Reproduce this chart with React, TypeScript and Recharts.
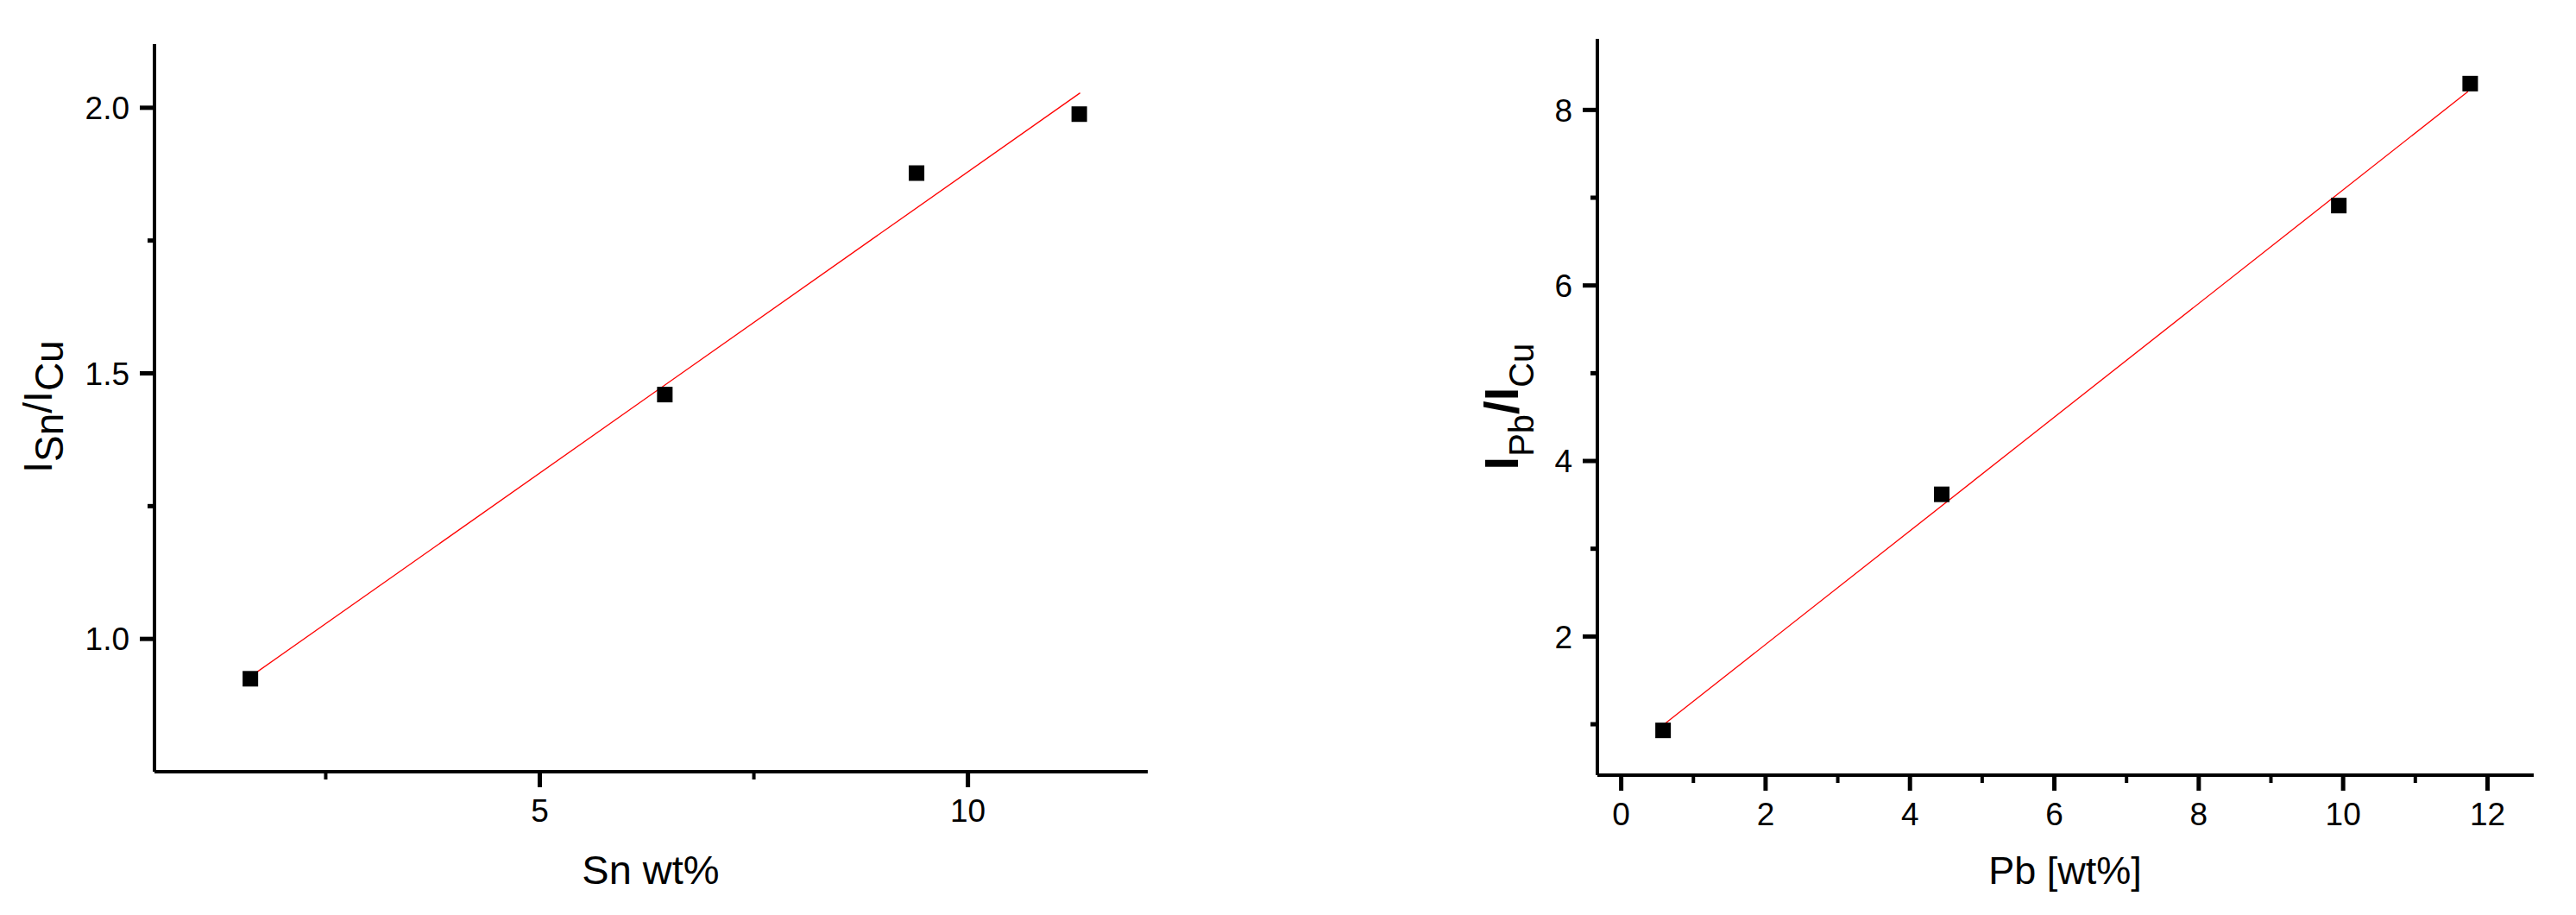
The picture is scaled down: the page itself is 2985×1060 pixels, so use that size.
import { ComposedChart, Scatter, XAxis, YAxis } from "recharts";

// Sn calibration
const snWt = [1.62, 6.46, 9.4, 11.3];
const snRatio = [0.925, 1.46, 1.877, 1.988];
const snFitWt = [1.62, 11.31];
const snFitRatio = [0.929, 2.028];
const snXTicks = [2.5, 5, 7.5, 10];
const snXLabels = [5, 10];
const snYTicks = [1, 1.25, 1.5, 1.75, 2];
const snYLabels = [1, 1.5, 2];

// Pb calibration
const pbWt = [0.58, 4.44, 9.94, 11.76];
const pbRatio = [0.93, 3.62, 6.91, 8.3];
const pbFitWt = [0.58, 11.73];
const pbFitRatio = [0.99, 8.21];
const pbXTicks = [0, 1, 2, 3, 4, 5, 6, 7, 8, 9, 10, 11, 12];
const pbXLabels = [0, 2, 4, 6, 8, 10, 12];
const pbYTicks = [1, 2, 3, 4, 5, 6, 7, 8];
const pbYLabels = [2, 4, 6, 8];

const FONT = "'Liberation Sans', Arial, sans-serif";
const TICK_FS = 37;

const zip = (xs: number[], ys: number[]) => xs.map((x, i) => ({ x, y: ys[i] }));

const square = (p: any) => <rect x={p.cx - 9} y={p.cy - 9} width={18} height={18} fill="#000" />;

function xTick(labels: number[], fmt: (v: number) => string) {
  return (p: any) => {
    const v = p.payload.value;
    const major = labels.includes(v);
    return (
      <g>
        <line x1={p.x} x2={p.x} y1={p.y} y2={p.y + (major ? 18 : 9)} stroke="#000" strokeWidth={major ? 5 : 4} />
        {major && (
          <text x={p.x} y={p.y + 58} textAnchor="middle" fontSize={TICK_FS} fontFamily={FONT} fill="#000">
            {fmt(v)}
          </text>
        )}
      </g>
    );
  };
}

function yTick(labels: number[], fmt: (v: number) => string) {
  return (p: any) => {
    const v = p.payload.value;
    const major = labels.includes(v);
    return (
      <g>
        <line x1={p.x - (major ? 17 : 8)} x2={p.x} y1={p.y} y2={p.y} stroke="#000" strokeWidth={5} />
        {major && (
          <text x={p.x - 29} y={p.y} dy="0.36em" textAnchor="end" fontSize={TICK_FS} fontFamily={FONT} fill="#000">
            {fmt(v)}
          </text>
        )}
      </g>
    );
  };
}

export default function App() {
  const snPts = zip(snWt, snRatio);
  const snFit = zip(snFitWt, snFitRatio);
  const pbPts = zip(pbWt, pbRatio);
  const pbFit = zip(pbFitWt, pbFitRatio);

  return (
    <div style={{ position: "absolute", left: 0, top: 0, width: 2985, height: 1060, background: "#fff" }}>
      <div style={{ position: "absolute", left: 0, top: 0 }}>
        <ComposedChart width={1400} height={1060} margin={{ top: 51, left: 119, right: 70, bottom: 106 }}>
          <XAxis
            type="number"
            dataKey="x"
            domain={[0.5, 12.1]}
            ticks={snXTicks}
            interval={0}
            allowDataOverflow
            height={60}
            axisLine={{ stroke: "#000", strokeWidth: 4 }}
            tickLine={false}
            tickSize={0}
            tickMargin={0}
            tick={xTick(snXLabels, (v) => String(v))}
          />
          <YAxis
            type="number"
            dataKey="y"
            domain={[0.75, 2.12]}
            ticks={snYTicks}
            interval={0}
            allowDataOverflow
            width={60}
            axisLine={{ stroke: "#000", strokeWidth: 4 }}
            tickLine={false}
            tickSize={0}
            tickMargin={0}
            tick={yTick(snYLabels, (v) => v.toFixed(1))}
          />
          <Scatter data={snFit} line={{ stroke: "#ff0000", strokeWidth: 1.3 }} shape={() => <g />} isAnimationActive={false} />
          <Scatter data={snPts} shape={square} isAnimationActive={false} />
        </ComposedChart>
      </div>

      <div style={{ position: "absolute", left: 1400, top: 0 }}>
        <ComposedChart width={1585} height={1060} margin={{ top: 45, left: 391, right: 49, bottom: 102 }}>
          <XAxis
            type="number"
            dataKey="x"
            domain={[-0.33, 12.64]}
            ticks={pbXTicks}
            interval={0}
            allowDataOverflow
            height={60}
            axisLine={{ stroke: "#000", strokeWidth: 4 }}
            tickLine={false}
            tickSize={0}
            tickMargin={0}
            tick={xTick(pbXLabels, (v) => String(v))}
          />
          <YAxis
            type="number"
            dataKey="y"
            domain={[0.42, 8.81]}
            ticks={pbYTicks}
            interval={0}
            allowDataOverflow
            width={60}
            axisLine={{ stroke: "#000", strokeWidth: 4 }}
            tickLine={false}
            tickSize={0}
            tickMargin={0}
            tick={yTick(pbYLabels, (v) => String(v))}
          />
          <Scatter data={pbFit} line={{ stroke: "#ff0000", strokeWidth: 1.3 }} shape={() => <g />} isAnimationActive={false} />
          <Scatter data={pbPts} shape={square} isAnimationActive={false} />
        </ComposedChart>
      </div>

      {/* axis titles */}
      <svg width={2985} height={1060} style={{ position: "absolute", left: 0, top: 0, pointerEvents: "none" }}>
        <g fontFamily={FONT} fill="#000">
          <text x={754} y={1024} textAnchor="middle" fontSize={47}>Sn wt%</text>
          <text transform="translate(60, 471) rotate(-90)" textAnchor="middle" fontSize={46}>
            I<tspan dy={13}>Sn</tspan><tspan dy={-13}>/I</tspan><tspan dy={13}>Cu</tspan>
          </text>
          <text x={2393} y={1024} textAnchor="middle" fontSize={45}>Pb [wt%]</text>
          <text transform="translate(1759, 471) rotate(-90)" textAnchor="middle" fontSize={56} fontWeight="bold">
            I<tspan dy={18} fontSize={40} fontWeight="normal">Pb</tspan>
            <tspan dy={-18}>/I</tspan>
            <tspan dy={18} fontSize={40} fontWeight="normal">Cu</tspan>
          </text>
        </g>
      </svg>
    </div>
  );
}
